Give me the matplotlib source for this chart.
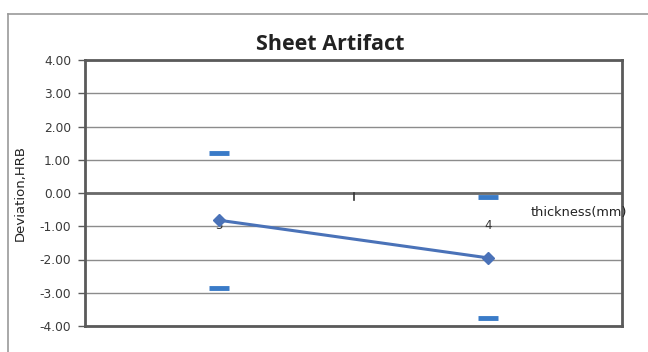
import matplotlib
matplotlib.use("Agg")
import matplotlib.pyplot as plt
from matplotlib.lines import Line2D

# Data
thickness = ["3", "4"]
mean_dev = [-0.82, -1.95]
upper_dev = [1.20, -0.12]
lower_dev = [-2.86, -3.77]
y_ticks = [4, 3, 2, 1, 0, -1, -2, -3, -4]

W, H = 648, 352
fig = plt.figure(figsize=(W / 100, H / 100), dpi=100)
fig.patch.set_facecolor("white")

# outer chart frame (runs off the right and bottom edges)
fx = 7.5 / W
fy = 1 - 13.5 / H
fig.add_artist(Line2D([fx, fx], [0, fy], transform=fig.transFigure, color="#9a9a9a", lw=1.2))
fig.add_artist(Line2D([fx, 1], [fy, fy], transform=fig.transFigure, color="#9a9a9a", lw=1.2))

left, right, top, bottom = 85, 622, 60, 326
ax = fig.add_axes([left / W, 1 - bottom / H, (right - left) / W, (bottom - top) / H])

x = list(range(len(thickness)))
ax.set_xlim(-0.5, len(thickness) - 0.5)
ax.set_ylim(-4, 4)

# gridlines
for v in y_ticks:
    ax.axhline(v, color="#8c8c8c", lw=1.0, zorder=1)
ax.axhline(0, color="#6a6a6a", lw=2.0, zorder=2)

for s in ax.spines.values():
    s.set_color("#5a5a5a")
    s.set_linewidth(2.0)

# series
ax.plot(x, mean_dev, color="#4a72b8", lw=2.2, marker="D", markersize=6,
        markerfacecolor="#4a72b8", markeredgecolor="#4a72b8", zorder=5)
ax.plot(x, upper_dev, linestyle="none", marker="_", markersize=15, mew=3.5,
        color="#3a7bc8", zorder=5)
ax.plot(x, lower_dev, linestyle="none", marker="_", markersize=15, mew=3.5,
        color="#3a7bc8", zorder=5)

# y axis
ax.set_yticks(y_ticks)
ax.set_yticklabels([f"{v:.2f}" for v in y_ticks], fontsize=8.8, color="#3a3a3a",
                   family="DejaVu Sans")
ax.tick_params(axis="y", direction="out", length=5, width=1, color="#5a5a5a", pad=5)
ax.set_ylabel("Deviation,HRB", fontsize=9.5, color="#222222", family="DejaVu Sans",
              labelpad=0)
ax.yaxis.set_label_coords(-0.108, 0.5)

# category axis drawn along y = 0
ax.set_xticks([])
ax.plot([0.5, 0.5], [0, -0.2], color="#333333", lw=1.2, zorder=3, clip_on=False)
for xi, lab in zip(x, thickness):
    ax.text(xi, -0.98, lab, ha="center", va="center", fontsize=8.5, color="#333333",
            family="DejaVu Sans", zorder=4)
ax.text(1.158, -0.58, "thickness(mm)", ha="left", va="center", fontsize=9.3,
        color="#222222", family="DejaVu Sans", clip_on=False, zorder=6)

fig.text(330 / W, 1 - 45 / H, "Sheet Artifact", ha="center", va="center",
         fontsize=15.5, fontweight="bold", color="#222222", family="Open Sans")

fig.savefig("out.png", dpi=100)
